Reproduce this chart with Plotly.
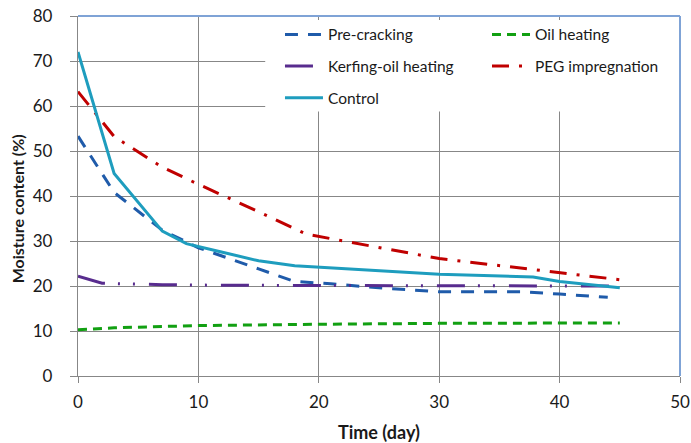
import plotly.graph_objects as go

# Data
pre_x = [0, 3, 7, 10, 15, 18, 21, 25, 30, 37, 40, 44]
pre_y = [53.3, 40.8, 32.4, 28.5, 23.8, 21.0, 20.5, 19.6, 18.7, 18.7, 18.2, 17.5]

oil_x = [0, 3, 7, 10, 20, 30, 45]
oil_y = [10.3, 10.7, 11.0, 11.2, 11.5, 11.7, 11.8]

kerf_x = [0, 2, 7, 10, 20, 30, 45]
kerf_y = [22.2, 20.6, 20.3, 20.2, 20.1, 20.1, 20.0]

peg_x = [0, 3, 7, 10, 15, 19, 30, 45]
peg_y = [63.2, 53.2, 46.4, 42.6, 36.5, 31.5, 26.1, 21.4]

ctrl_x = [0, 3, 7, 9, 12, 15, 18, 20, 30, 37.8, 40, 45]
ctrl_y = [72, 45, 32.2, 29.4, 27.5, 25.6, 24.5, 24.2, 22.6, 22.0, 21.0, 19.6]

x_ticks = [0, 10, 20, 30, 40, 50]
y_ticks = [0, 10, 20, 30, 40, 50, 60, 70, 80]

FONT = "Lato"
TXT = "#1a1a1a"

fig = go.Figure()
fig.add_trace(go.Scatter(x=pre_x, y=pre_y, mode="lines", name="Pre-cracking",
                         legend="legend", legendgroup="a",
                         line=dict(color="#1F5BAA", width=3, dash="13px,10px")))
fig.add_trace(go.Scatter(x=oil_x, y=oil_y, mode="lines", name="Oil heating",
                         legend="legend2", legendgroup="b",
                         line=dict(color="#12A012", width=3, dash="9px,6px")))
fig.add_trace(go.Scatter(x=kerf_x, y=kerf_y, mode="lines", name="Kerfing-oil heating",
                         legend="legend", legendgroup="c",
                         line=dict(color="#582C8E", width=3,
                                   dash="28px,13px,2px,13px,2px,14px")))
fig.add_trace(go.Scatter(x=peg_x, y=peg_y, mode="lines", name="PEG impregnation",
                         legend="legend2", legendgroup="d",
                         line=dict(color="#C00000", width=3, dash="17px,10px,3px,10px")))
fig.add_trace(go.Scatter(x=ctrl_x, y=ctrl_y, mode="lines", name="Control",
                         legend="legend", legendgroup="e",
                         line=dict(color="#1E9DBE", width=3)))

grid = "#878787"
legend_common = dict(
    orientation="v", yanchor="top", xanchor="left",
    bgcolor="rgba(0,0,0,0)", tracegroupgap=8.5, itemwidth=38,
    font=dict(family=FONT, size=15.5, color=TXT),
)
fig.update_layout(
    width=691, height=443,
    margin=dict(l=78, r=11, t=16, b=67, autoexpand=False),
    paper_bgcolor="white", plot_bgcolor="white",
    font=dict(family=FONT, color=TXT),
    showlegend=True,
    legend=dict(x=0.3355, y=0.995, **legend_common),
    legend2=dict(x=0.6794, y=0.995, **legend_common),
    xaxis=dict(
        range=[0, 50], tickvals=x_ticks, showgrid=True, gridcolor=grid, gridwidth=1.3,
        showline=True, linecolor=grid, linewidth=1.3, zeroline=False,
        ticks="outside", ticklen=6, tickcolor=grid, ticklabelstandoff=4,
        ticklabeloverflow="allow",
        tickfont=dict(family=FONT, size=17, color=TXT), automargin=False,
    ),
    yaxis=dict(
        range=[0, 80], tickvals=y_ticks, showgrid=True, gridcolor=grid, gridwidth=1.3,
        showline=True, linecolor=grid, linewidth=1.3, zeroline=False,
        ticks="outside", ticklen=7, tickcolor=grid, ticklabelstandoff=14,
        ticklabeloverflow="allow",
        tickfont=dict(family=FONT, size=17, color=TXT), automargin=False,
    ),
    annotations=[
        dict(text="<b>Time (day)</b>", xref="paper", yref="paper", x=0.5, y=-0.155,
             xanchor="center", yanchor="middle", showarrow=False,
             font=dict(family=FONT, size=18, color=TXT)),
        dict(text="<b>Moisture content (%)</b>", xref="paper", yref="paper",
             x=-0.099, y=0.464, xanchor="center", yanchor="middle", textangle=-90,
             showarrow=False, font=dict(family=FONT, size=16, color=TXT)),
    ],
)

# white block behind the legend area (hides grid lines)
fig.add_shape(type="rect", xref="paper", yref="paper", x0=0.311, x1=0.999, y0=0.735, y1=0.989,
              fillcolor="white", line=dict(width=0), layer="above")
# blue frame on top and right
fig.add_shape(type="line", xref="paper", yref="paper", x0=0, x1=1, y0=1, y1=1,
              line=dict(color="#7FA3D6", width=2), layer="above")
fig.add_shape(type="line", xref="paper", yref="paper", x0=1, x1=1, y0=0, y1=1,
              line=dict(color="#7FA3D6", width=2), layer="above")

# remove the browser's default page margin so the figure fills the window
fig.write_html("out.html", config={"displayModeBar": False},
               post_script="document.body.style.margin='0px';")
